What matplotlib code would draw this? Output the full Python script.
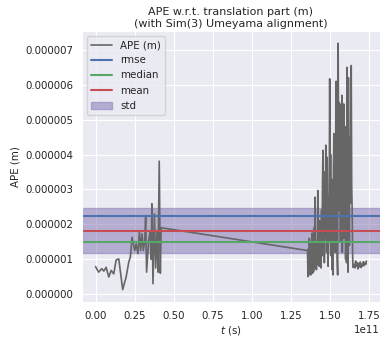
import matplotlib
matplotlib.use('Agg')
import matplotlib.pyplot as plt
import seaborn as sns
from matplotlib.ticker import FormatStrFormatter

# APE samples: time in units of 1e11 s, error in units of 1e-6 m
t_first = [0.000, 0.020, 0.040, 0.053, 0.068, 0.085, 0.100, 0.117, 0.132, 0.149,
           0.157, 0.174, 0.196, 0.213, 0.223, 0.234, 0.251, 0.260, 0.272, 0.281,
           0.289, 0.298, 0.306, 0.315, 0.321, 0.327, 0.340, 0.350, 0.356, 0.361,
           0.368, 0.377, 0.385, 0.394, 0.400, 0.408, 0.415, 0.420, 0.425]
ape_first = [0.79, 0.63, 0.73, 0.66, 0.77, 0.49, 0.68, 0.58, 0.98, 1.01,
             0.73, 0.13, 0.49, 0.92, 1.06, 1.63, 1.25, 1.44, 1.16, 1.82,
             1.25, 1.73, 1.25, 1.53, 2.23, 0.63, 1.53, 1.80, 1.00, 2.59,
             0.30, 2.30, 0.75, 1.80, 0.63, 3.81, 0.60, 1.90, 1.90]

t_second = [1.357, 1.360, 1.363, 1.366, 1.369, 1.372, 1.375, 1.378, 1.381, 1.384,
            1.387, 1.390, 1.393, 1.396, 1.399, 1.402, 1.405, 1.408, 1.411, 1.414,
            1.417, 1.420, 1.423, 1.426, 1.429, 1.432, 1.435, 1.438, 1.441, 1.444,
            1.447, 1.450, 1.453, 1.456, 1.459, 1.462, 1.465, 1.468, 1.471, 1.474,
            1.477, 1.480, 1.483, 1.486, 1.489, 1.492, 1.495, 1.499, 1.502, 1.505,
            1.508, 1.511, 1.514, 1.517, 1.520, 1.523, 1.526, 1.529, 1.532, 1.535,
            1.538, 1.541, 1.544, 1.547, 1.550, 1.553, 1.556, 1.559, 1.562, 1.565,
            1.568, 1.571, 1.574, 1.577, 1.580, 1.583, 1.586, 1.589, 1.592, 1.595,
            1.598, 1.601, 1.604, 1.607, 1.610, 1.613, 1.616, 1.619, 1.622, 1.625,
            1.628, 1.631, 1.634, 1.637, 1.640, 1.643, 1.646, 1.648,
            1.655, 1.660, 1.665, 1.670, 1.675, 1.680, 1.685, 1.690, 1.695, 1.700,
            1.705, 1.710, 1.715, 1.720, 1.725, 1.730, 1.734]
ape_second = [1.25, 0.50, 1.30, 0.55, 1.60, 0.70, 1.10, 0.55, 1.45, 0.80,
              1.75, 0.60, 1.20, 0.65, 1.90, 0.75, 2.78, 0.90, 1.50, 0.70,
              1.30, 0.85, 2.97, 0.95, 1.60, 0.80, 2.10, 1.00, 1.70, 0.75,
              2.40, 1.10, 3.20, 4.12, 1.30, 2.60, 0.90, 3.50, 1.60, 4.27,
              3.97, 1.20, 3.92, 2.00, 0.80, 2.80, 1.50, 6.17, 2.20, 4.00,
              1.10, 3.30, 0.70, 2.50, 0.55, 3.60, 4.60, 1.80, 3.80, 1.20,
              5.00, 6.10, 3.20, 1.00, 0.55, 7.19, 4.40, 5.50, 2.40, 4.80,
              1.50, 5.45, 3.00, 5.70, 1.20, 4.20, 2.20, 5.45, 1.60, 3.50,
              4.80, 1.00, 2.80, 0.90, 6.50, 2.10, 0.63, 6.20, 3.30, 1.40,
              4.50, 2.60, 5.00, 6.55, 3.10, 2.40, 1.10, 0.77,
              0.85, 0.75, 0.95, 0.80, 0.90, 0.72, 0.88, 0.78, 0.92, 0.76,
              0.86, 0.80, 0.93, 0.82, 0.90, 0.85, 0.95]

# statistics (m)
rmse = 2.23e-6
median = 1.49e-6
mean = 1.82e-6
std = 1.27e-6

t = [v * 1e11 for v in t_first + t_second]
ape = [v * 1e-6 for v in ape_first + ape_second]

sns.set_style('darkgrid')
plt.rcParams['font.family'] = ['DejaVu Sans']

fig = plt.figure(figsize=(3.83, 3.40), dpi=100)
ax = fig.add_axes([0.214, 0.112, 0.778, 0.797])

ax.plot(t, ape, '-', color='#666666', linewidth=1.2, label='APE (m)')
ax.axhline(rmse, color='#4C72B0', linewidth=1.5, label='rmse')
ax.axhline(median, color='#55A868', linewidth=1.5, label='median')
ax.axhline(mean, color='#C44E52', linewidth=1.5, label='mean')
ax.axhspan(mean - std / 2, mean + std / 2, color='#8172B2', alpha=0.5, label='std')

ax.set_title('APE w.r.t. translation part (m)\n(with Sim(3) Umeyama alignment)',
             fontsize=8, pad=3)
ax.set_xlabel('$t$ (s)', fontsize=7.4, labelpad=2)
ax.set_ylabel('APE (m)', fontsize=7.4, labelpad=3)
ax.yaxis.set_major_formatter(FormatStrFormatter('%.6f'))
ax.tick_params(labelsize=7.4, pad=3)
ax.xaxis.get_offset_text().set_fontsize(7.4)
ax.legend(loc='upper left', fontsize=7.4, frameon=True)

fig.savefig('out.png', dpi=100)
